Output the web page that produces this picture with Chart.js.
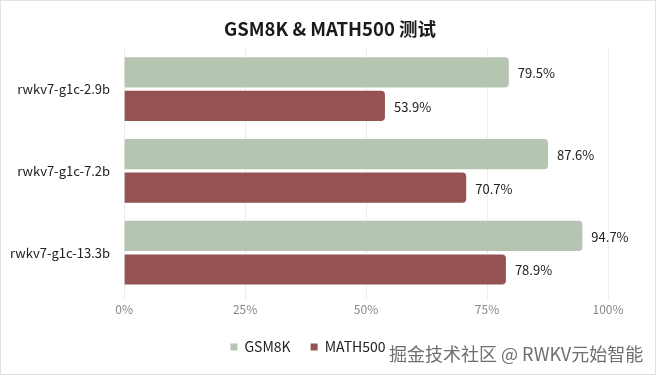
<!DOCTYPE html>
<html>
<head>
<meta charset="utf-8">
<script src="https://cdn.jsdelivr.net/npm/chart.js@4"></script>
<style>
  html, body { margin: 0; padding: 0; background: #fff; }
  #wrap { position: relative; width: 656px; height: 375px; }
  #wrap::after { content: ''; position: absolute; inset: 0; border: 1px solid #e2e2e2; pointer-events: none; }
  #mark { position: absolute; left: 389px; top: 340px; font-family: "Noto Sans CJK SC", sans-serif; font-size: 18px; color: #6f6f6f; text-shadow: 0 0 2px #fff; white-space: nowrap; }
</style>
</head>
<body>
<div id="wrap">
  <canvas id="benchChart" width="656" height="375"></canvas>
  <div id="mark">掘金技术社区 @ RWKV元始智能</div>
</div>
<script>
// chart data
const models = ['rwkv7-g1c-2.9b', 'rwkv7-g1c-7.2b', 'rwkv7-g1c-13.3b'];
const gsm8k = [79.5, 87.6, 94.7];
const math500 = [53.9, 70.7, 78.9];
const xTicks = [0, 25, 50, 75, 100];

const fontFamily = '"Noto Sans CJK SC", "Noto Sans", sans-serif';

// draws the value at the end of every bar
const valueLabels = {
    id: 'valueLabels',
    afterDatasetsDraw(chart) {
        const ctx = chart.ctx;
        ctx.save();
        ctx.font = '13px ' + fontFamily;
        ctx.fillStyle = '#222';
        ctx.textAlign = 'left';
        ctx.textBaseline = 'middle';
        chart.data.datasets.forEach((ds, i) => {
            chart.getDatasetMeta(i).data.forEach((bar, j) => {
                ctx.fillText(ds.data[j].toFixed(1) + '%', bar.x + 9, bar.y + 1);
            });
        });
        ctx.restore();
    }
};

// legend sits a bit left of the canvas centre in the original
const legendShift = {
    id: 'legendShift',
    afterLayout(chart) {
        chart.legend.right -= 44;
    }
};

const ctx = document.getElementById('benchChart').getContext('2d');

new Chart(ctx, {
    type: 'bar',
    data: {
        labels: models,
        datasets: [{
            label: 'GSM8K',
            data: gsm8k,
            backgroundColor: '#b6c5b2',
            borderRadius: 4
        }, {
            label: 'MATH500',
            data: math500,
            backgroundColor: '#945252',
            borderRadius: 4
        }]
    },
    options: {
        indexAxis: 'y',
        responsive: false,
        animation: false,
        categoryPercentage: 0.82,
        barPercentage: 0.9,
        layout: {
            padding: { left: 4, right: 0, top: 0, bottom: 11 }
        },
        plugins: {
            title: {
                display: true,
                text: 'GSM8K & MATH500 测试',
                color: '#1a1a1a',
                font: { family: fontFamily, size: 18.5, weight: 'bold' },
                padding: { top: 18, bottom: 8 }
            },
            legend: {
                position: 'bottom',
                labels: {
                    usePointStyle: true,
                    pointStyle: 'rect',
                    boxWidth: 7,
                    boxHeight: 7,
                    padding: 20,
                    color: '#222',
                    font: { family: fontFamily, size: 14 }
                }
            },
            tooltip: { enabled: false }
        },
        scales: {
            x: {
                min: 0,
                max: 100,
                afterBuildTicks: axis => {
                    axis.ticks = xTicks.map(v => ({ value: v }));
                },
                afterFit: axis => {
                    axis.paddingRight = 48;
                },
                ticks: {
                    callback: v => v + '%',
                    color: '#888',
                    padding: 3,
                    font: { family: fontFamily, size: 12 }
                },
                grid: { color: '#ececec', tickLength: 6 },
                border: { display: false }
            },
            y: {
                ticks: {
                    color: '#222',
                    padding: 6,
                    font: { family: fontFamily, size: 13 }
                },
                grid: { display: false },
                border: { color: '#ececec' }
            }
        }
    },
    plugins: [valueLabels, legendShift]
});
</script>
</body>
</html>
